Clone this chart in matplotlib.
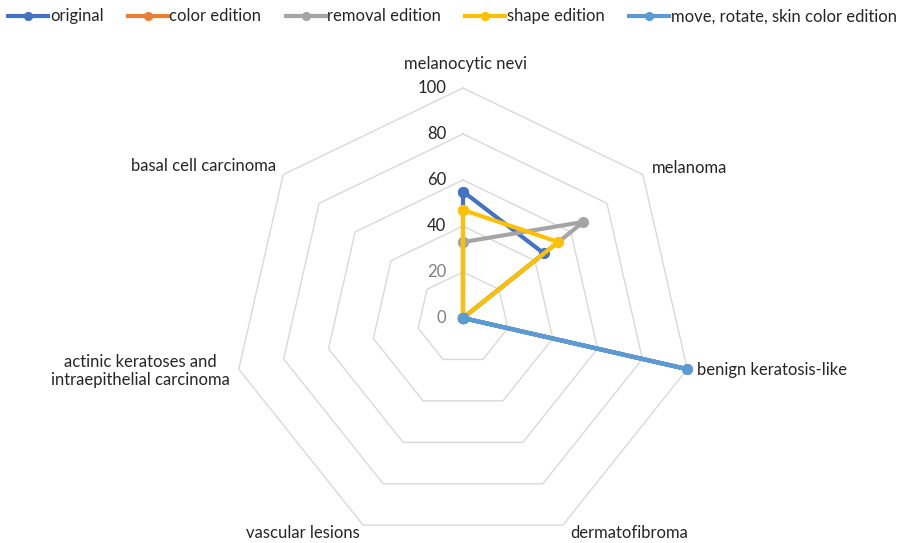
import numpy as np
import matplotlib
matplotlib.use("Agg")
import matplotlib.pyplot as plt

plt.rcParams['font.family'] = ['Lato', 'DejaVu Sans']

categories = ["melanocytic nevi", "melanoma", "benign keratosis-like",
              "dermatofibroma", "vascular lesions",
              "actinic keratoses and\nintraepithelial carcinoma",
              "basal cell carcinoma"]

series_names = ["original", "color edition", "removal edition",
                "shape edition", "move, rotate, skin color edition"]
original = [55, 45, 0, 0, 0, 0, 0]
color_edition = [0, 0, 100, 0, 0, 0, 0]
removal_edition = [33, 67, 0, 0, 0, 0, 0]
shape_edition = [47, 53, 0, 0, 0, 0, 0]
move_edition = [0, 0, 100, 0, 0, 0, 0]
series_values = [original, color_edition, removal_edition, shape_edition, move_edition]
series_colors = ["#4472C4", "#ED7D31", "#A5A5A5", "#FFC000", "#5B9BD5"]

r_ticks = [0, 20, 40, 60, 80, 100]

W, H = 911, 543
fig = plt.figure(figsize=(W / 100, H / 100), dpi=100)
cx, cy, R = 463, 318, 230
ax = fig.add_axes([(cx - R) / W, (H - cy - R) / H, 2 * R / W, 2 * R / H],
                  projection="polar")
ax.set_theta_zero_location("N")
ax.set_theta_direction(-1)
ax.set_ylim(0, 100)
ax.grid(False)
ax.spines["polar"].set_visible(False)
ax.set_xticks([])
ax.set_yticks([])
ax.patch.set_alpha(0)

n = len(categories)
theta = np.arange(n) * 2 * np.pi / n
theta_closed = np.append(theta, theta[0])

# heptagonal grid rings
for r in r_ticks[1:]:
    ax.plot(theta_closed, [r] * (n + 1), color="#D9D9D9", lw=1.0, zorder=1,
            clip_on=False)

# radial tick labels
for r in r_ticks:
    col = "#262626" if r >= 40 else "#7F7F7F"
    ax.annotate(str(r), xy=(0, r), xytext=(-17, 0), textcoords="offset pixels",
                ha="right", va="center", fontsize=12, color=col,
                annotation_clip=False)

# category labels
label_offsets = [(2, 24, "center", "center"),
                 (9, 7, "left", "center"),
                 (10, -1, "left", "center"),
                 (7, -8, "left", "center"),
                 (-3, -8, "right", "center"),
                 (-9, -2, "right", "center"),
                 (-7, 9, "right", "center")]
for t, lab, (dx, dy, ha, va) in zip(theta, categories, label_offsets):
    ax.annotate(lab, xy=(t, 100), xytext=(dx, dy), textcoords="offset pixels",
                ha=ha, va=va, fontsize=12, color="#262626",
                multialignment="center", annotation_clip=False)

# data series
for name, vals, col in zip(series_names, series_values, series_colors):
    v = list(vals) + [vals[0]]
    ax.plot(theta_closed, v, color=col, lw=3.0, marker="o", markersize=7,
            label=name, zorder=3, clip_on=False, solid_joinstyle="round")

fig.legend(loc="upper left", bbox_to_anchor=(0.0, 1.0), ncol=5, frameon=False,
           fontsize=12, handlelength=2.4, handletextpad=0.1,
           columnspacing=1.45, borderaxespad=0.1, labelcolor="#262626",
           markerscale=0.8)

fig.savefig("out.png", dpi=100)
